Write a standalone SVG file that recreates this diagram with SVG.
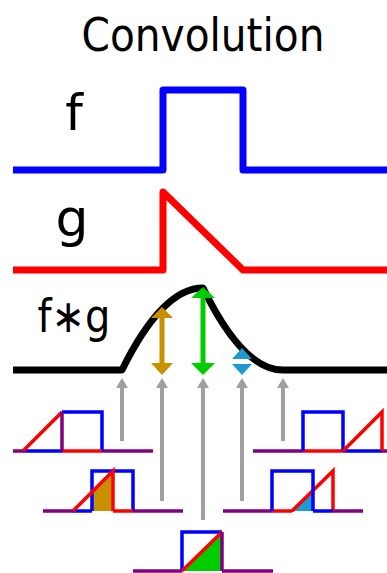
<svg xmlns="http://www.w3.org/2000/svg" width="387" height="573" viewBox="0 0 387 573">
<style>
text{font-family:"DejaVu Sans","Liberation Sans",sans-serif;fill:#000}
.big{fill:none;stroke-width:7;stroke-linejoin:round}
.sm{fill:none;stroke-width:3.5;stroke-linejoin:miter}
.gr{stroke:#A0A0A0;stroke-width:4;fill:none}
.gh{fill:#A0A0A0}
.B{stroke:#0000FF}.R{stroke:#FF0000}.P{stroke:#800080}
</style>
<rect width="387" height="573" fill="#fff"/>
<g id="title"><text x="203" y="51" font-size="47" text-anchor="middle" textLength="243" lengthAdjust="spacingAndGlyphs">Convolution</text></g>
<g id="f-plot">
<text x="74" y="130" font-size="50" text-anchor="middle">f</text>
<path class="big B" d="M13,170 H163 V90 H243 V170 H387"/>
</g>
<g id="g-plot">
<text x="72" y="236" font-size="52" text-anchor="middle">g</text>
<path class="big R" d="M13,270 H163 V192 L243,270 H387"/>
</g>
<g id="fg-plot">
<text x="74" y="332" font-size="46" text-anchor="middle" textLength="73" lengthAdjust="spacingAndGlyphs">f∗g</text>
<path class="big" stroke="#000" d="M13,370 H122 Q162.5,288 203,288 Q243,370 283,370 H387"/>
</g>
<g id="colored-arrows">
<g id="arrow-gold" fill="#C89000">
<rect x="159.5" y="316" width="5" height="48"/>
<polygon points="151,318 162,307 173,318"/>
<polygon points="151,363 162,375 173,363"/>
</g>
<g id="arrow-green" fill="#00CC00">
<rect x="200.5" y="296" width="5" height="68"/>
<polygon points="191,298 203,287 215,298"/>
<polygon points="191,363 203,375 215,363"/>
</g>
<g id="arrow-blue" fill="#1E9AD0">
<polygon points="232,359 242,348 252,359"/>
<polygon points="232,364 242,375 252,364"/>
</g>
</g>
<g id="connectors">
<path class="gr" d="M122,386 V441 M162,386 V501 M203,386 V520 M242,386 V501 M283,386 V441"/>
<polygon class="gh" points="116,388 122,378 128,388"/>
<polygon class="gh" points="156,388 162,378 168,388"/>
<polygon class="gh" points="197,388 203,378 209,388"/>
<polygon class="gh" points="236,388 242,378 248,388"/>
<polygon class="gh" points="277,388 283,378 289,388"/>
</g>
<g id="plot1">
<path class="sm P" d="M13,451 H23 M102,451 H153"/>
<path class="sm B" d="M23,451 H62 M62,412 H102 V451"/>
<path class="sm R" d="M62,451 H102 M23,451 L62,412"/>
<path class="sm P" d="M62,451 V412"/>
</g>
<g id="plot2">
<polygon points="92,511 92,492 113,471 113,511" fill="#C89000"/>
<path class="sm P" d="M43,511 H73 M133,511 H183"/>
<path class="sm B" d="M73,511 H92 M92,511 V471 H133 V511"/>
<path class="sm R" d="M113,511 H133 M73,511 L113,471 V511"/>
</g>
<g id="plot3">
<polygon points="182,571 222,532 222,571" fill="#00CC00"/>
<path class="sm P" d="M133,571 H182 M222,571 H273"/>
<path class="sm B" d="M182,571 V532 H222"/>
<path class="sm R" d="M182,571 L222,532"/>
<path class="sm P" d="M222,532 V571"/>
</g>
<g id="plot4">
<polygon points="292,511 313,490 313,511" fill="#1E9AD0"/>
<path class="sm P" d="M223,511 H272 M333,511 H363"/>
<path class="sm R" d="M272,511 H292 M292,511 L333,471 V511"/>
<path class="sm B" d="M313,511 H333 M272,511 V471 H313 V511"/>
</g>
<g id="plot5">
<path class="sm P" d="M253,451 H303 M382,451 H387"/>
<path class="sm R" d="M303,451 H343"/>
<path class="sm B" d="M343,451 H382 M303,451 V412 H343 V451"/>
<path class="sm R" d="M343,451 L382,412 V451"/>
</g>
</svg>
